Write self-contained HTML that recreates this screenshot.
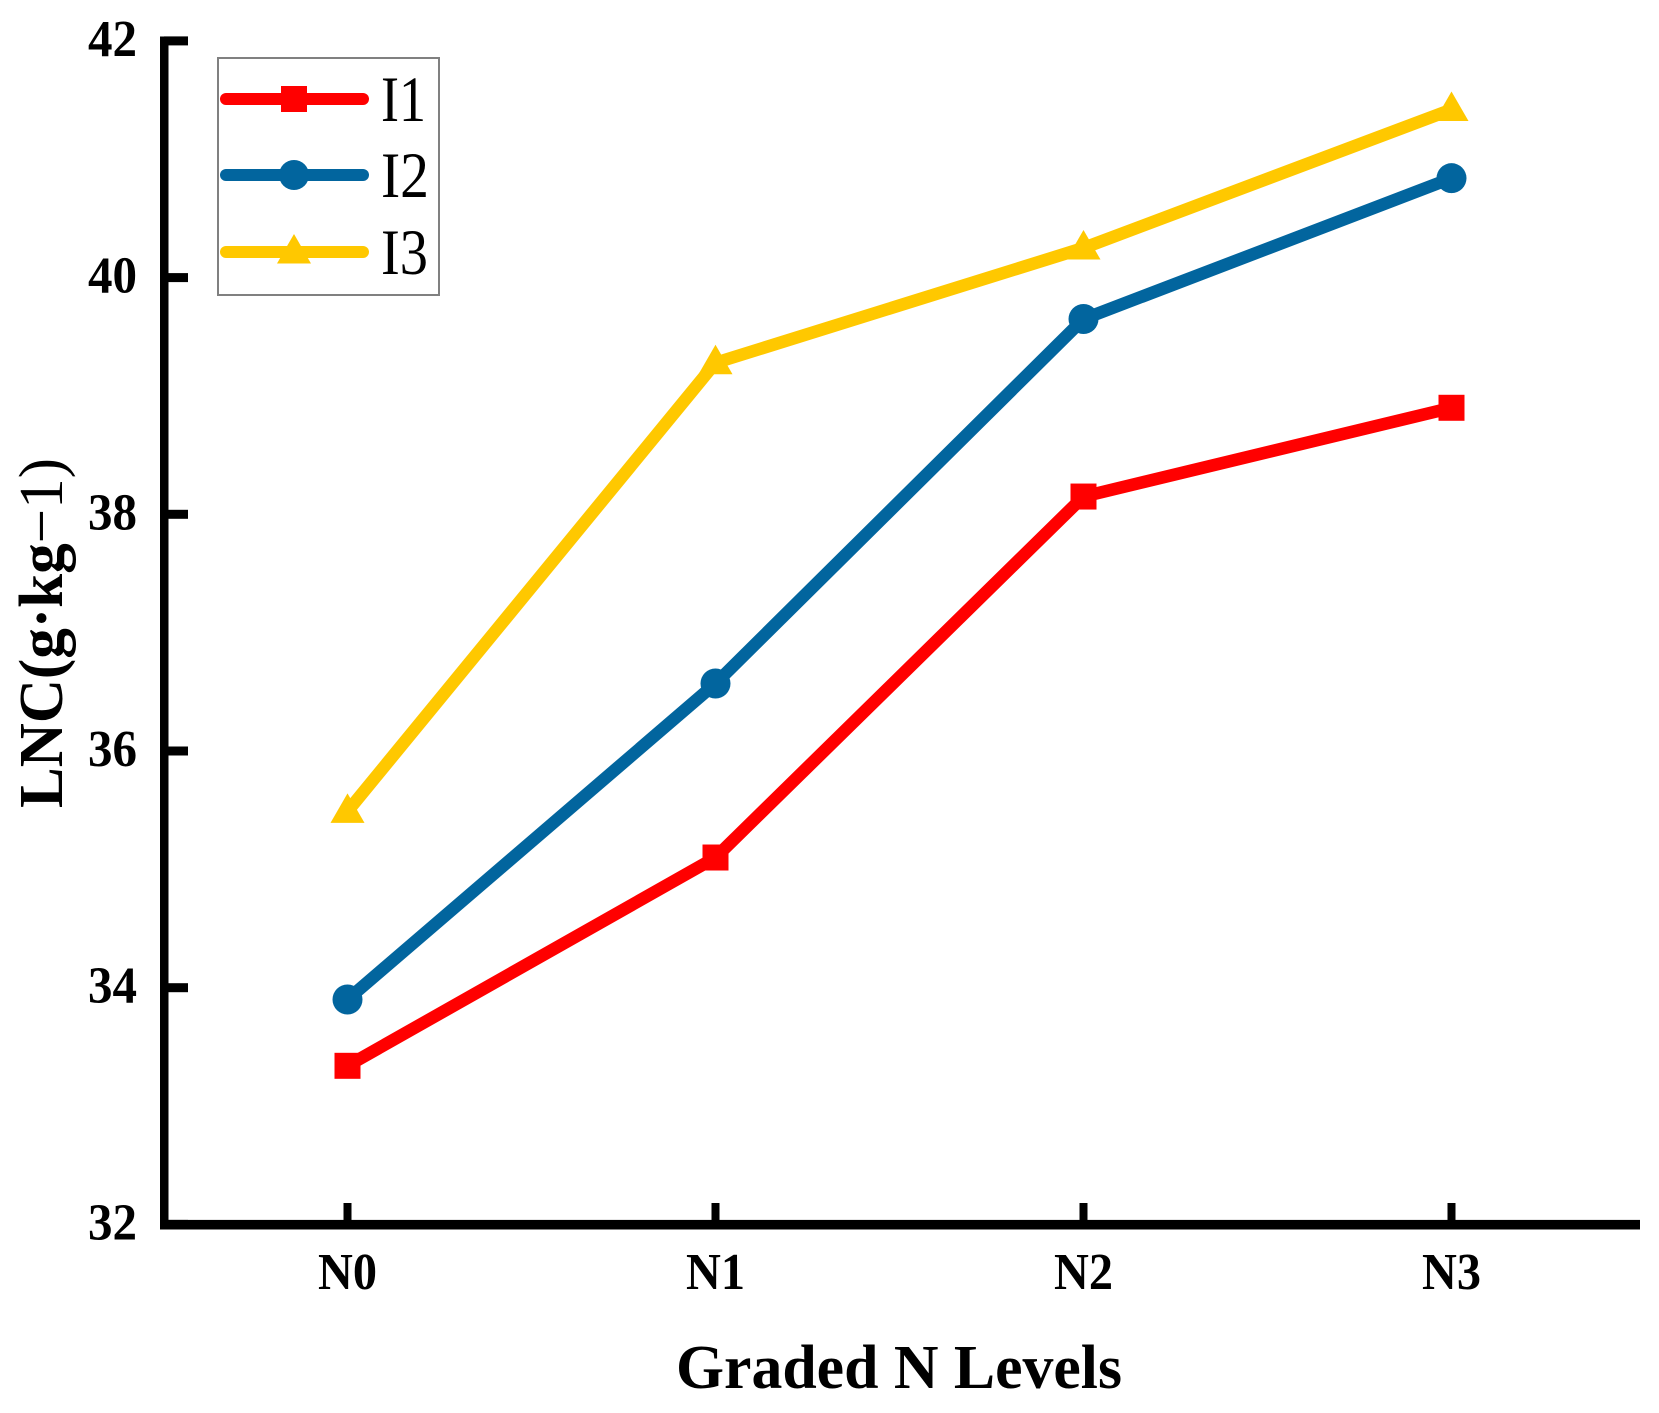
<!DOCTYPE html>
<html>
<head>
<meta charset="utf-8">
<style>
html,body{margin:0;padding:0;background:#fff;}
svg{display:block;}
text{font-family:"Liberation Serif",serif;fill:#000;}
</style>
</head>
<body>
<svg id="chart" xmlns="http://www.w3.org/2000/svg" width="1659" height="1413" viewBox="0 0 1659 1413">
<rect x="0" y="0" width="1659" height="1413" fill="#ffffff"/>
</svg>
<script>
const categories = ['N0', 'N1', 'N2', 'N3'];
const yTicks = [32, 34, 36, 38, 40, 42];
const seriesNames = ['I1', 'I2', 'I3'];
const valuesI1 = [33.34, 35.1, 38.15, 38.9];
const valuesI2 = [33.9, 36.57, 39.65, 40.84];
const valuesI3 = [35.49, 39.28, 40.25, 41.42];
const seriesValues = [valuesI1, valuesI2, valuesI3];

const colors = ['#ff0000', '#02659e', '#ffc800'];
const svg = document.getElementById('chart');
const NS = 'http://www.w3.org/2000/svg';

function yScale(v) { return 1224.4 - (v - 32) * 118.35; }
function xScale(i) { return 347.5 + i * 368; }

function mk(tag, attrs, parent) {
  const el = document.createElementNS(NS, tag);
  for (const k in attrs) el.setAttribute(k, attrs[k]);
  (parent || svg).appendChild(el);
  return el;
}

function drawMarker(kind, cx, cy, color, size) {
  let m;
  if (kind === 0) {
    m = mk('rect', { x: cx - 13 * size, y: cy - 13 * size, width: 26 * size, height: 26 * size, fill: color });
  } else if (kind === 1) {
    m = mk('circle', { cx: cx, cy: cy, r: 15 * size, fill: color });
  } else {
    const pts = [[cx, cy - 18 * size], [cx + 17 * size, cy + 11.5 * size], [cx - 17 * size, cy + 11.5 * size]];
    m = mk('polygon', { points: pts.map(p => p.join(',')).join(' '), fill: color });
  }
  return m;
}

// axes
const yAxisLine = mk('rect', { x: 160, y: 36.5, width: 8.5, height: 1193, fill: '#000' });


const xAxisLine = mk('rect', { x: 160, y: 1219.9, width: 1480, height: 9.6, fill: '#000' });



// y ticks
yTicks.forEach(function (t) {
  const y = yScale(t);
  const tick = mk('rect', { x: 164, y: y - 4.5, width: 24, height: 9, fill: '#000' });
  
  
  const label = mk('text', { x: 137, y: y + 15, 'text-anchor': 'end', 'font-size': 52, 'font-weight': 'bold', textLength: 49, lengthAdjust: 'spacingAndGlyphs' });
  label.textContent = String(t);
  
  
});

// x ticks
categories.forEach(function (c, i) {
  const x = xScale(i);
  const tick = mk('rect', { x: x - 4, y: 1203, width: 8, height: 20, fill: '#000' });
  
  
  const label = mk('text', { x: x, y: 1289, 'text-anchor': 'middle', 'font-size': 52, 'font-weight': 'bold', textLength: 59, lengthAdjust: 'spacingAndGlyphs' });
  label.textContent = c;
  
  
});

// series
seriesValues.forEach(function (vals, s) {
  const line = mk('polyline', {
    points: vals.map(function (v, i) { return xScale(i) + ',' + yScale(v); }).join(' '),
    fill: 'none', stroke: colors[s], 'stroke-width': 12.5, 'stroke-linejoin': 'round'
  });
  
  
  vals.forEach(function (v, i) {
    const m = drawMarker(s, xScale(i), yScale(v), colors[s], 1);
    
    
  });
});

// legend
const legendBox = mk('rect', { x: 218, y: 58, width: 221, height: 237, fill: '#ffffff', stroke: '#808080', 'stroke-width': 2 });


const legendRowY = [99, 175, 252];
const legendTextWidths = [45, 48, 47];
seriesNames.forEach(function (name, s) {
  const ly = legendRowY[s];
  const ll = mk('line', { x1: 226, y1: ly, x2: 363, y2: ly, stroke: colors[s], 'stroke-width': 12, 'stroke-linecap': 'round' });
  
  
  const lm = drawMarker(s, 294, ly, colors[s], 1);
  
  
  const lt = mk('text', { x: 381, y: ly + 22, 'font-size': 65, textLength: legendTextWidths[s], lengthAdjust: 'spacingAndGlyphs' });
  lt.textContent = name;
  
  
});

// axis titles
const xTitle = mk('text', { x: 899, y: 1388, 'text-anchor': 'middle', 'font-size': 62, 'font-weight': 'bold', textLength: 446, lengthAdjust: 'spacingAndGlyphs' });
xTitle.textContent = 'Graded N Levels';



const yTitle = mk('text', { transform: 'translate(62,808) rotate(-90)', 'font-size': 62, 'font-weight': 'bold', textLength: 350, lengthAdjust: 'spacingAndGlyphs' });


const yTitleBold = mk('tspan', {}, yTitle);
yTitleBold.textContent = 'LNC(g·kg';
const yTitleRegular = mk('tspan', { 'font-weight': 'normal' }, yTitle);
yTitleRegular.textContent = '−1)';
</script>
</body>
</html>
